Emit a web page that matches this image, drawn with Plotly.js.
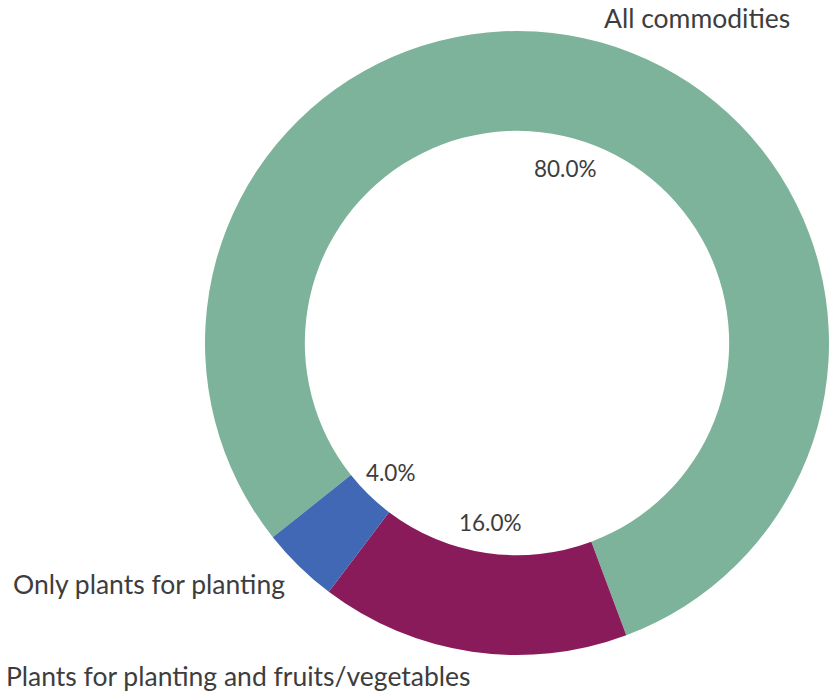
<!DOCTYPE html>
<html>
<head>
<meta charset="utf-8">
<script src="https://cdn.plot.ly/plotly-3.0.1.min.js"></script>
<style>html,body{margin:0;padding:0;background:#fff;}#chart{width:836px;height:696px;}</style>
</head>
<body>
<div id="chart"></div>
<script>
const labels = ['All commodities', 'Plants for planting and fruits/vegetables', 'Only plants for planting'];
const values = [80, 16, 4];
const colors = ['#7DB39A', '#8A1B5B', '#4068B4'];

const W = 836, H = 696;
const cx = 517, cy = 343, R = 312;
const rotation = -128.5;
const total = values.reduce((a, b) => a + b, 0);

const annotations = [];
let cum = 0;
values.forEach((v, i) => {
  const theta = (rotation + (cum + v / 2) / total * 360) * Math.PI / 180;
  cum += v;
  const s = Math.sin(theta), c = Math.cos(theta);
  const lr = 1.08 * R, pr = 0.58 * R;
  annotations.push({
    x: (cx + lr * s) / W, y: 1 - (cy - lr * c) / H, xref: 'paper', yref: 'paper',
    text: labels[i], showarrow: false, xanchor: s > 0 ? 'left' : 'right', yanchor: 'middle',
    xshift: s > 0 ? -4 : 4, borderpad: 0,
    font: {family: 'Lato, sans-serif', size: 26.5, color: '#3d3d3d'}
  });
  annotations.push({
    x: (cx + pr * s) / W, y: 1 - (cy - pr * c) / H, xref: 'paper', yref: 'paper',
    text: (v / total * 100).toFixed(1) + '%', showarrow: false, xanchor: 'center', yanchor: 'middle',
    font: {family: 'Lato, sans-serif', size: 22.5, color: '#3d3d3d'}
  });
});

const trace = {
  type: 'pie',
  labels: labels,
  values: values,
  sort: false,
  direction: 'clockwise',
  rotation: rotation,
  hole: 0.68,
  textinfo: 'none',
  hoverinfo: 'label+percent',
  marker: {colors: colors, line: {width: 0}},
  domain: {x: [(cx - R) / W, (cx + R) / W], y: [1 - (cy + R) / H, 1 - (cy - R) / H]},
  showlegend: false
};

Plotly.newPlot('chart', [trace], {
  width: W, height: H,
  margin: {l: 0, r: 0, t: 0, b: 0},
  paper_bgcolor: '#ffffff',
  showlegend: false,
  annotations: annotations
}, {displayModeBar: false, staticPlot: true});
</script>
</body>
</html>
